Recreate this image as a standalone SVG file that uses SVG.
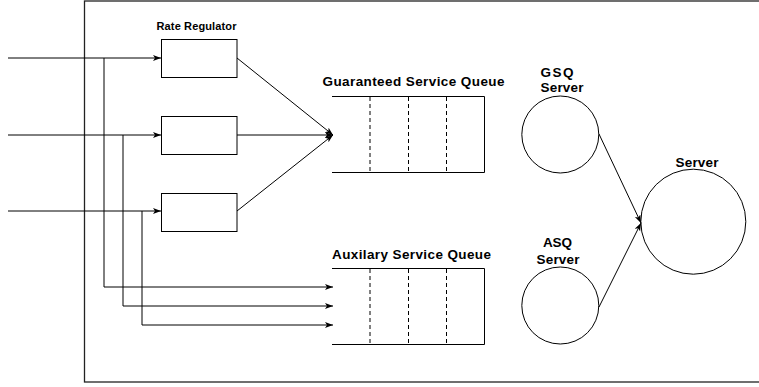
<svg xmlns="http://www.w3.org/2000/svg" width="759" height="387" viewBox="0 0 759 387">
<defs>
<style>
text{font-family:"Liberation Sans",Arial,sans-serif;font-weight:bold;fill:#000}
.lbl{font-size:13.5px}
.box{fill:#fff;stroke:#000;stroke-width:1}
.q{fill:none;stroke:#000;stroke-width:1}
.dash{stroke:#000;stroke-width:1;stroke-dasharray:4,3}
.ln{fill:none;stroke:#000;stroke-width:1}
.circ{fill:none;stroke:#000;stroke-width:1}
</style>
<marker id="ah" markerUnits="userSpaceOnUse" markerWidth="10" markerHeight="8" refX="8" refY="3" orient="auto">
<path d="M0,0 L8,3 L0,6 L2,3 z" fill="#000"/>
</marker>
</defs>
<rect x="0" y="0" width="759" height="387" fill="#fff"/>
<g id="frame">
<rect x="84.5" y="1" width="700" height="381" fill="none" stroke="#222" stroke-width="1.3"/>
</g>
<g id="connectors">
<line class="ln" x1="8" y1="58" x2="161" y2="58" marker-end="url(#ah)"/>
<line class="ln" x1="8" y1="135" x2="161" y2="135" marker-end="url(#ah)"/>
<line class="ln" x1="8" y1="211" x2="161" y2="211" marker-end="url(#ah)"/>
<polyline class="ln" points="104,58 104,287 333,287" marker-end="url(#ah)"/>
<polyline class="ln" points="123,135 123,306 333,306" marker-end="url(#ah)"/>
<polyline class="ln" points="142,211 142,325 333,325" marker-end="url(#ah)"/>
<line class="ln" x1="237" y1="58" x2="333" y2="135" marker-end="url(#ah)"/>
<line class="ln" x1="237" y1="135" x2="333" y2="135" marker-end="url(#ah)"/>
<line class="ln" x1="237" y1="211" x2="333" y2="135" marker-end="url(#ah)"/>
<line class="ln" x1="599" y1="134" x2="641" y2="223" marker-end="url(#ah)"/>
<line class="ln" x1="599" y1="307" x2="641" y2="223" marker-end="url(#ah)"/>
</g>
<g id="rate-regulator-1">
<text x="156.5" y="30" font-size="11" textLength="80" lengthAdjust="spacing">Rate Regulator</text>
<rect class="box" x="161.5" y="39.5" width="75.5" height="38"/>
</g>
<g id="rate-regulator-2">
<rect class="box" x="161.5" y="116.5" width="75.5" height="38"/>
</g>
<g id="rate-regulator-3">
<rect class="box" x="161.5" y="193.5" width="75.5" height="38"/>
</g>
<g id="gsq">
<text class="lbl" x="322.5" y="86" textLength="182" lengthAdjust="spacing">Guaranteed Service Queue</text>
<polyline class="q" points="332,96.5 484.5,96.5 484.5,172.5 332,172.5"/>
<line class="dash" x1="370" y1="97" x2="370" y2="172"/>
<line class="dash" x1="408.5" y1="97" x2="408.5" y2="172"/>
<line class="dash" x1="446.5" y1="97" x2="446.5" y2="172"/>
</g>
<g id="asq">
<text class="lbl" x="332" y="259" textLength="159" lengthAdjust="spacing">Auxilary Service Queue</text>
<polyline class="q" points="332,268.5 484.5,268.5 484.5,344.5 332,344.5"/>
<line class="dash" x1="370" y1="269" x2="370" y2="344"/>
<line class="dash" x1="408.5" y1="269" x2="408.5" y2="344"/>
<line class="dash" x1="446.5" y1="269" x2="446.5" y2="344"/>
</g>
<g id="gsq-server">
<text class="lbl" x="540.5" y="76.5" textLength="33" lengthAdjust="spacing">GSQ</text>
<text class="lbl" x="540.5" y="91.5" textLength="43" lengthAdjust="spacing">Server</text>
<circle class="circ" cx="560.3" cy="134.5" r="38.5"/>
</g>
<g id="asq-server">
<text class="lbl" x="543" y="247" textLength="29" lengthAdjust="spacing">ASQ</text>
<text class="lbl" x="536.5" y="264" textLength="43" lengthAdjust="spacing">Server</text>
<circle class="circ" cx="560.3" cy="305.5" r="38.5"/>
</g>
<g id="server">
<text class="lbl" x="675.5" y="167" textLength="43" lengthAdjust="spacing">Server</text>
<circle class="circ" cx="693.3" cy="221.7" r="52.5"/>
</g>
</svg>
